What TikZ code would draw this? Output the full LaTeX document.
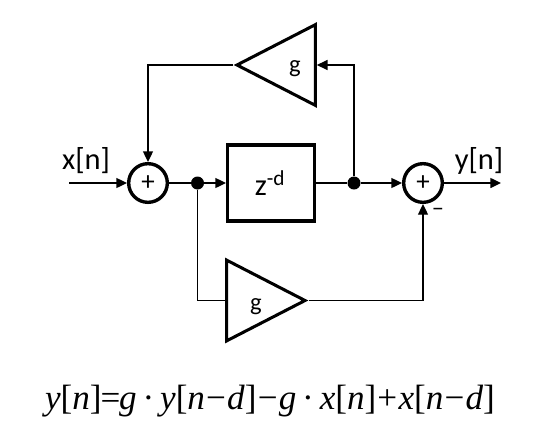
\documentclass[tikz,border=0pt]{standalone}
\usepackage{fontspec}
\setmainfont{Carlito}
\newfontfamily\eqfont{Liberation Serif}
\usetikzlibrary{arrows.meta,shapes.geometric}

\tikzset{
	wire/.style={line width=1.2pt},
	sigarrow/.style={wire,-{Triangle[length=3.2mm,width=3mm]}},
	sumnode/.style={circle,draw,line width=2.9pt,minimum size=1.16cm,inner sep=0pt,font=\fontsize{23}{23}\selectfont},
	delaybox/.style={rectangle,draw,line width=2.9pt,minimum width=2.6cm,minimum height=2.28cm,inner sep=0pt},
	gainnode/.style={isosceles triangle,isosceles triangle stretches,draw,line width=2.6pt,minimum width=2.42cm,minimum height=2.35cm,inner sep=0pt},
	tapdot/.style={circle,fill,minimum size=0.39cm,inner sep=0pt},
	siglabel/.style={font=\fontsize{26}{26}\selectfont,inner sep=0pt},
	gainlabel/.style={font=\fontsize{21}{21}\selectfont,inner sep=0pt}
}

\begin{document}
\begin{tikzpicture}[x=0.03cm,y=-0.03cm,>=stealth]
	\useasboundingbox (0,0) rectangle (539,443);
	
	\node[sumnode] (sumL) at (148,183) {+};
	\node[sumnode] (sumR) at (423,183) {+};
	\node[tapdot] (tapL) at (197.5,183) {};
	\node[tapdot] (tapR) at (354,183) {};
	\node[delaybox] (delay) at (271,183) {};
	\node[gainnode,shape border rotate=180,anchor=apex] (gainT) at (233,65) {};
	\node[gainnode,anchor=apex] (gainB) at (309,300.5) {};
	
	\coordinate (xin) at (69,183);
	\coordinate (yout) at (501,183);
	
	\node[siglabel] (xlab) at (86,161) {x[n]};
	\node[siglabel] (ylab) at (479,161) {y[n]};
	\node[siglabel] (zlab) at (270,183) {\fontsize{26}{26}\selectfont z\textsuperscript{-d}};
	\node[gainlabel] (gT) at (295,69) {g};
	\node[gainlabel] (gB) at (256,307) {g};
	\node[gainlabel] (minus) at (438,212) {\fontsize{20}{20}\selectfont −};
	
	\draw[sigarrow] (xin)--(sumL);
	\draw[wire] (sumL)--(tapL);
	\draw[sigarrow] (tapL)--(delay);
	\draw[wire] (delay)--(tapR);
	\draw[sigarrow] (tapR)--(sumR);
	\draw[sigarrow] (sumR)--(yout);
	
	\draw[sigarrow] (tapR) |- (gainT.lower side);
	\draw[sigarrow] (gainT.apex) -| (sumL);
	\draw[wire] (tapL) |- (gainB.lower side);
	\draw[sigarrow] (gainB.apex) -| (sumR);
	
	\node[inner sep=0pt,font=\eqfont\fontsize{30}{30}\selectfont] (eqn) at (270,401) {\textit{y}[\textit{n}]\kern-1pt=\kern-1pt\textit{g}\,·\,\textit{y}[\textit{n}\kern1pt−\kern1pt\textit{d}]\kern1pt−\kern1pt\textit{g}\,·\,\textit{x}[\textit{n}]\kern1pt+\kern1pt\textit{x}[\textit{n}\kern1pt−\kern1pt\textit{d}]};
\end{tikzpicture}
\end{document}
